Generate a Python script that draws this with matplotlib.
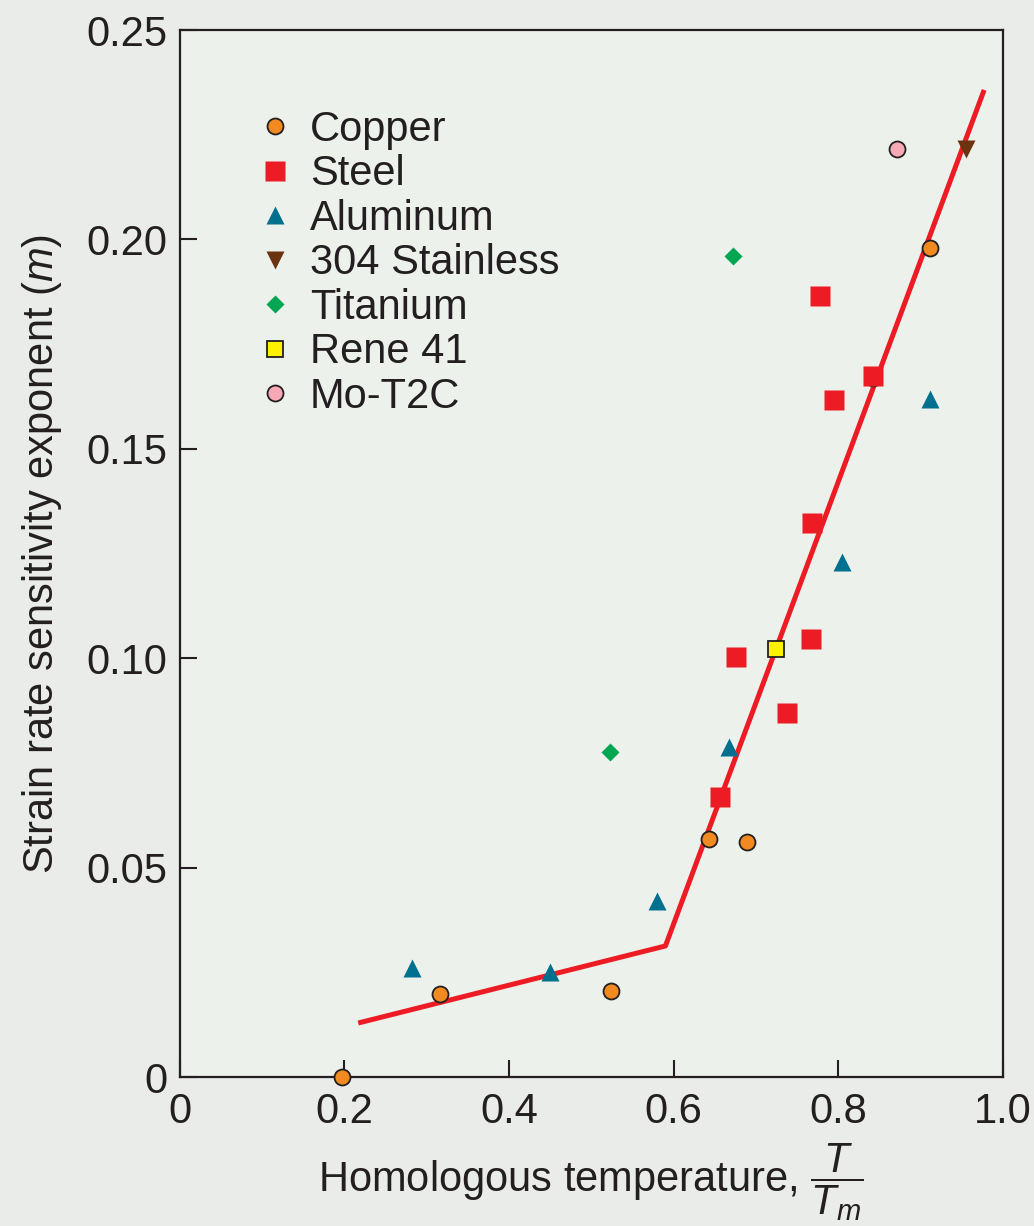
import numpy as np
import matplotlib
matplotlib.use("Agg")
from matplotlib import pyplot as plt

# data (x = T/Tm, y = m)
copper_x = [0.197, 0.316, 0.524, 0.643, 0.689, 0.842, 0.911]
copper_y = [0.000, 0.0198, 0.0205, 0.0568, 0.0561, 0.1670, 0.198]
steel_x = [0.778, 0.842, 0.795, 0.768, 0.767, 0.676, 0.738, 0.656]
steel_y = [0.1865, 0.1674, 0.1617, 0.1323, 0.1046, 0.1003, 0.0869, 0.0669]
alum_x = [0.282, 0.450, 0.580, 0.667, 0.804, 0.911]
alum_y = [0.026, 0.0251, 0.042, 0.0788, 0.123, 0.162]
stainless_x = [0.955]
stainless_y = [0.2216]
titanium_x = [0.672, 0.523]
titanium_y = [0.196, 0.0776]
rene_x = [0.724]
rene_y = [0.1022]
mo_x = [0.871]
mo_y = [0.2216]
fit_x = [0.217, 0.590, 0.977]
fit_y = [0.0129, 0.0313, 0.2357]

xticks = [0, 0.2, 0.4, 0.6, 0.8, 1.0]
xticklabels = ["0", "0.2", "0.4", "0.6", "0.8", "1.0"]
yticks = [0, 0.05, 0.10, 0.15, 0.20, 0.25]
yticklabels = ["0", "0.05", "0.10", "0.15", "0.20", "0.25"]

plt.rcParams['font.family'] = ['Liberation Sans', 'DejaVu Sans']
plt.rcParams['mathtext.fontset'] = 'custom'
plt.rcParams['mathtext.rm'] = 'Liberation Sans'
plt.rcParams['mathtext.it'] = 'Liberation Sans:italic'

fs = 30
ink = '#231f20'
fig = plt.figure(figsize=(10.34, 12.26), dpi=100, facecolor='#e9ece8')
ax = fig.add_axes([0.1736, 0.1215, 0.7965, 0.854])
ax.set_facecolor('#edf1ec')

ax.plot(fit_x, fit_y, color='#ed1c24', lw=3.6, solid_capstyle='butt', zorder=2)

ax.plot(copper_x, copper_y, 'o', ls='none', ms=11.5, mfc='#f28a22', mec=ink, mew=1.3,
        label='Copper', zorder=3, clip_on=False)
ax.plot(steel_x, steel_y, 's', ls='none', ms=14.5, mfc='#ed1c24', mec='none',
        label='Steel', zorder=4)
ax.plot(alum_x, alum_y, '^', ls='none', ms=13, mfc='#00708f', mec='none',
        label='Aluminum', zorder=4)
ax.plot(stainless_x, stainless_y, 'v', ls='none', ms=13.5, mfc='#6b3410', mec='none',
        label='304 Stainless', zorder=4)
ax.plot(titanium_x, titanium_y, 'D', ls='none', ms=9, mfc='#00a651', mec='none',
        label='Titanium', zorder=4)
ax.plot(rene_x, rene_y, 's', ls='none', ms=11.5, mfc='#fff200', mec=ink, mew=1.3,
        label='Rene 41', zorder=4)
ax.plot(mo_x, mo_y, 'o', ls='none', ms=11.5, mfc='#f7a9b8', mec=ink, mew=1.3,
        label='Mo-T2C', zorder=4)

ax.set_xlim(0, 1.0)
ax.set_ylim(0, 0.25)
ax.set_xticks(xticks)
ax.set_xticklabels(xticklabels)
ax.set_yticks(yticks)
ax.set_yticklabels(yticklabels)
ax.tick_params(direction='in', length=12, width=1.5, labelsize=fs, colors=ink)
ax.tick_params(axis='y', pad=9)
ax.tick_params(axis='x', pad=11)
for s in ax.spines.values():
    s.set_linewidth(1.6)
    s.set_color(ink)

ax.set_xlabel(r'Homologous temperature, $\dfrac{T}{T_m}$', fontsize=fs, color=ink, labelpad=6)
ax.set_ylabel(r'Strain rate sensitivity exponent ($m$)', fontsize=fs, color=ink, labelpad=16)

ax.legend(loc='upper left', bbox_to_anchor=(0.07, 0.94), frameon=False, fontsize=fs,
          handlelength=1.0, handletextpad=0.35, labelspacing=0.11, borderaxespad=0,
          labelcolor=ink)

fig.savefig('out.png', dpi=100, facecolor=fig.get_facecolor())
